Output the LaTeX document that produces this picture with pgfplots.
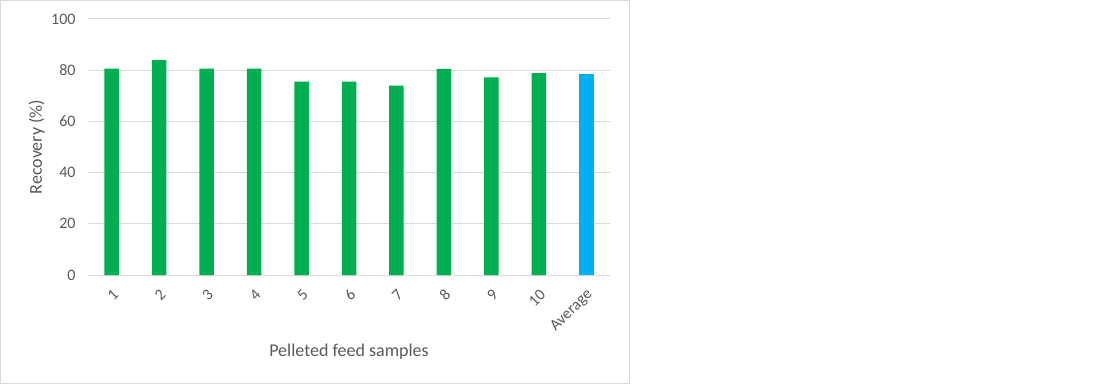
\documentclass[border=0pt]{standalone}
\usepackage{pgfplots}
\pgfplotsset{compat=1.18}
\usepackage{fontspec}
\setmainfont{Carlito}
\definecolor{bargreen}{HTML}{00B050}
\definecolor{barblue}{HTML}{00B0F0}
\definecolor{gridgray}{HTML}{D9D9D9}
\definecolor{txtgray}{HTML}{595959}
\begin{document}
\begin{tikzpicture}[x=1bp,y=1bp]
\useasboundingbox (0,0) rectangle (1101,385);
\draw[gridgray, line width=1bp] (0.5,1.5) rectangle (629.5,384.5);
\begin{axis}[
  at={(88bp,110bp)}, anchor=south west,
  scale only axis, width=522bp, height=256bp,
  xmin=-0.5, xmax=10.5, ymin=0, ymax=100,
  ytick={0,20,40,60,80,100},
  xtick={0,1,2,3,4,5,6,7,8,9,10},
  xticklabels={1,2,3,4,5,6,7,8,9,10,Average},
  axis lines*=left,
  y axis line style={draw=none},
  x axis line style={draw=gridgray, line width=1bp, -},
  tick style={draw=none},
  ymajorgrids, grid style={gridgray, line width=1bp},
  /pgf/number format/assume math mode=true,
  tick label style={font=\fontsize{16bp}{18bp}\selectfont, text=txtgray},
  yticklabel style={anchor=east, xshift=-9bp},
  xticklabel style={rotate=45, anchor=east, yshift=-12bp, xshift=-3bp},
  xlabel={Pelleted feed samples},
  ylabel={Recovery (\%)},
  label style={font=\fontsize{18bp}{20bp}\selectfont, text=txtgray},
  xlabel style={at={(axis description cs:0.5,-0.30)}, anchor=center},
  ylabel style={at={(axis description cs:-0.098,0.5)}, anchor=center, rotate=0},
  ybar, bar width=14.5bp,
]
\addplot[bargreen, fill=bargreen, draw=none, bar shift=0pt] coordinates {
  (0,80.6) (1,83.9) (2,80.6) (3,80.6) (4,75.5) (5,75.5) (6,74.0) (7,80.5) (8,77.2) (9,78.9)
};
\addplot[barblue, fill=barblue, draw=none, bar shift=0pt] coordinates {
  (10,78.7)
};
\end{axis}
\end{tikzpicture}
\end{document}
